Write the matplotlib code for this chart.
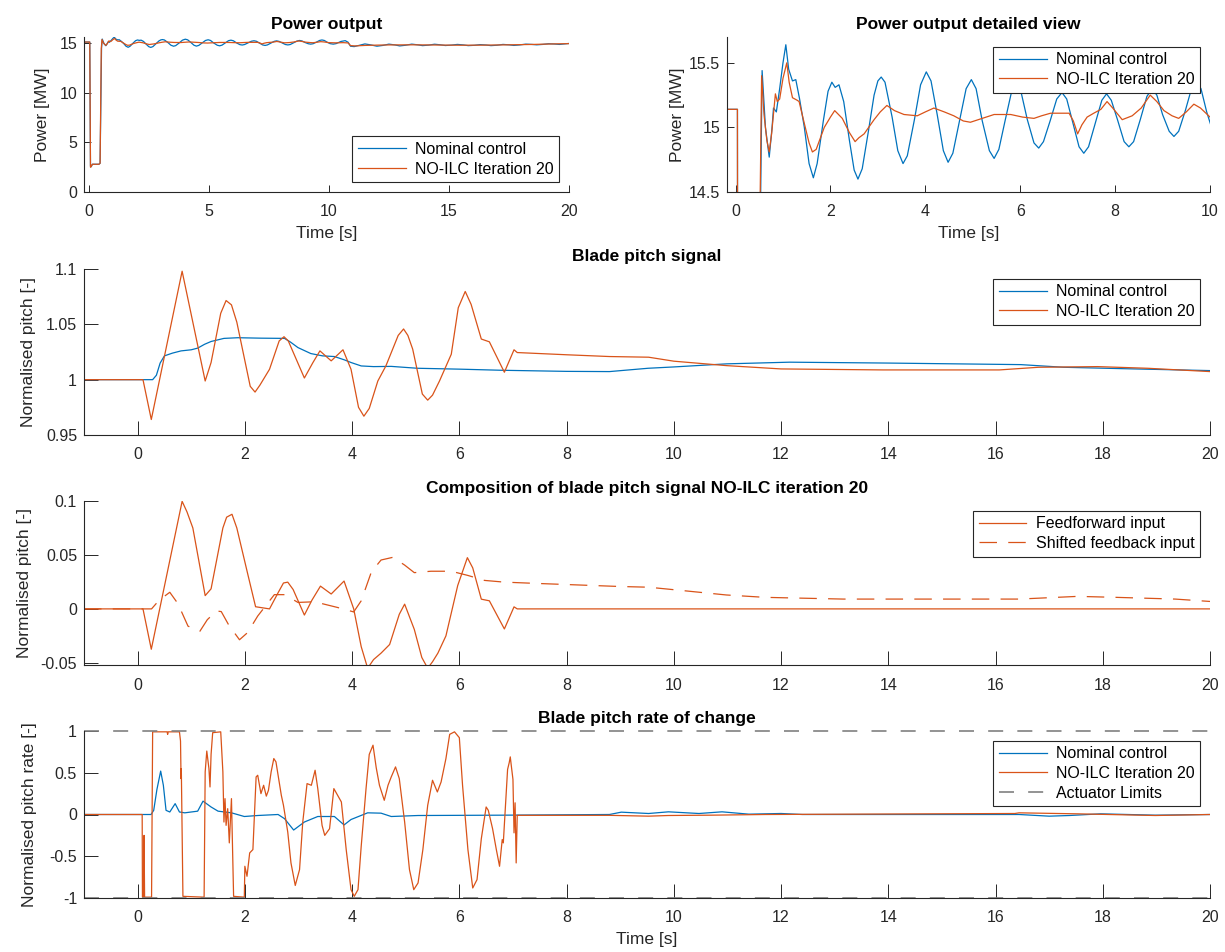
import numpy as np
import matplotlib
matplotlib.use("Agg")
import matplotlib.pyplot as plt
from matplotlib.ticker import FormatStrFormatter

plt.rcParams['font.family'] = ['Liberation Sans', 'DejaVu Sans']

BLUE = '#0072BD'
ORANGE = '#D95319'
GREY = '#808080'
AX_COL = '#262626'

# ---- power output [MW] ----
power_nom_t = [-1, 0.04, 0.07, 0.10, 0.15, 0.42, 0.47, 0.53, 0.56, 0.63, 0.71, 0.77, 0.80, 0.86, 0.93,
               1.00, 1.06, 1.12, 1.20, 1.27, 1.35, 1.45, 1.55, 1.64, 1.72, 1.85, 1.95, 2.03, 2.10, 2.18,
               2.28, 2.40, 2.50, 2.58, 2.67, 2.80, 2.92, 3.00, 3.07, 3.15, 3.30, 3.42, 3.53, 3.62, 3.77,
               3.90, 4.02, 4.12, 4.25, 4.38, 4.48, 4.58, 4.72, 4.86, 4.97, 5.07, 5.20, 5.35, 5.45, 5.55,
               5.68, 5.82, 5.92, 6.02, 6.15, 6.29, 6.39, 6.49, 6.63, 6.77, 6.88, 6.98, 7.10, 7.24, 7.34,
               7.44, 7.58, 7.72, 7.82, 7.92, 8.05, 8.19, 8.29, 8.39, 8.53, 8.67, 8.78, 8.88, 9.00, 9.14,
               9.24, 9.34, 9.48, 9.61, 9.71, 9.81, 9.93, 10.05, 10.18, 10.30, 10.50, 10.68, 10.80, 10.90,
               11.05, 11.25, 11.50, 11.75, 12.00, 12.25, 12.50, 12.75, 12.95, 13.20, 13.45, 13.70, 13.90,
               14.15, 14.40, 14.65, 14.85, 15.10, 15.35, 15.60, 15.80, 16.05, 16.30, 16.55, 16.75, 17.00,
               17.25, 17.50, 17.70, 17.95, 18.20, 18.45, 18.65, 18.90, 19.15, 19.40, 19.60, 19.80, 20.00]
power_nom = [15.14, 15.14, 2.6, 2.55, 2.8, 2.8, 2.9, 14.5, 15.44, 15.0, 14.77, 15.0, 15.15, 15.12, 15.30,
             15.50, 15.64, 15.45, 15.36, 15.37, 15.22, 15.00, 14.72, 14.61, 14.72, 15.05, 15.28, 15.35, 15.31, 15.33,
             15.20, 14.90, 14.67, 14.60, 14.68, 14.97, 15.25, 15.36, 15.39, 15.35, 15.08, 14.82, 14.72, 14.78, 15.06,
             15.33, 15.43, 15.36, 15.10, 14.82, 14.73, 14.80, 15.05, 15.30, 15.37, 15.30, 15.05, 14.82, 14.76, 14.83,
             15.05, 15.28, 15.33, 15.27, 15.06, 14.88, 14.84, 14.89, 15.05, 15.22, 15.27, 15.22, 15.05, 14.85, 14.80,
             14.85, 15.03, 15.21, 15.26, 15.21, 15.06, 14.89, 14.85, 14.89, 15.06, 15.24, 15.30, 15.25, 15.10, 14.97,
             14.93, 14.97, 15.13, 15.30, 15.35, 15.30, 15.12, 14.98, 14.93, 14.98, 15.20, 15.28, 15.12, 14.72,
             14.68, 14.80, 14.95, 14.85, 14.72, 14.80, 14.93, 14.85, 14.75, 14.82, 14.93, 14.86, 14.78,
             14.83, 14.92, 14.86, 14.79, 14.83, 14.90, 14.85, 14.78, 14.81, 14.88, 14.84, 14.78, 14.82,
             14.90, 14.86, 14.80, 14.85, 14.93, 14.90, 14.86, 14.90, 14.97, 14.94, 14.90, 14.95, 15.00]

power_ilc_t = [-1, 0.04, 0.07, 0.10, 0.15, 0.42, 0.47, 0.52, 0.55, 0.60, 0.66, 0.71, 0.76, 0.84, 0.88,
               0.93, 1.00, 1.08, 1.13, 1.20, 1.30, 1.34, 1.45, 1.55, 1.62, 1.70, 1.87, 2.00, 2.09, 2.25,
               2.40, 2.52, 2.60, 2.71, 2.92, 3.05, 3.19, 3.35, 3.55, 3.83, 4.00, 4.18, 4.40, 4.60, 4.80,
               4.95, 5.20, 5.45, 5.80, 6.05, 6.29, 6.45, 6.64, 7.03, 7.12, 7.21, 7.30, 7.41, 7.55, 7.70,
               7.83, 7.95, 8.15, 8.36, 8.55, 8.74, 8.88, 9.03, 9.20, 9.34, 9.50, 9.66, 9.80, 10.00, 10.30,
               10.60, 10.80, 10.90, 11.10, 11.50, 12.00, 12.50, 13.50, 14.50, 15.50, 16.50, 17.50, 18.50,
               19.30, 20.00]
power_ilc = [15.14, 15.14, 2.5, 2.6, 2.8, 2.8, 2.9, 14.5, 15.40, 15.10, 14.90, 14.81, 14.95, 15.26, 15.20,
             15.22, 15.38, 15.50, 15.35, 15.23, 15.21, 15.20, 15.03, 14.88, 14.81, 14.83, 15.00, 15.08, 15.13, 15.07,
             14.96, 14.89, 14.92, 14.95, 15.06, 15.12, 15.17, 15.13, 15.10, 15.09, 15.12, 15.15, 15.12, 15.09, 15.05,
             15.04, 15.07, 15.10, 15.10, 15.08, 15.07, 15.09, 15.11, 15.11, 15.05, 14.95, 15.02, 15.08, 15.11, 15.14,
             15.20, 15.15, 15.06, 15.09, 15.15, 15.25, 15.20, 15.13, 15.09, 15.07, 15.12, 15.18, 15.15, 15.08, 15.06,
             15.08, 15.05, 14.78, 14.75, 14.80, 14.83, 14.85, 14.86, 14.84, 14.82, 14.83, 14.86, 14.90,
             14.95, 14.98]

# ---- normalised blade pitch [-] ----
pitch_nom_t = [-1, 0.28, 0.35, 0.42, 0.50, 0.65, 0.81, 1.00, 1.12, 1.25, 1.37, 1.61, 1.87, 2.30, 2.74,
               2.85, 2.99, 3.23, 3.45, 3.67, 3.85, 3.98, 4.17, 4.40, 4.73, 5.22, 6.00, 6.78, 8.00, 8.80,
               9.52, 10.00, 10.99, 12.16, 14.00, 16.47, 17.27, 18.50, 20.00]
pitch_nom = [1.0, 1.0, 1.004, 1.015, 1.0215, 1.024, 1.026, 1.027, 1.0285, 1.032, 1.0345, 1.0373, 1.0379, 1.0375, 1.0373,
             1.034, 1.029, 1.0236, 1.0215, 1.0209, 1.018, 1.0155, 1.0124, 1.0118, 1.012, 1.0103, 1.0095, 1.0085, 1.0075, 1.0073,
             1.0103, 1.0115, 1.0143, 1.0158, 1.015, 1.0136, 1.0112, 1.0098, 1.0082]

pitch_ilc_t = [-1, 0.10, 0.255, 0.83, 1.26, 1.37, 1.55, 1.65, 1.75, 1.85, 2.10, 2.19, 2.28, 2.46, 2.64,
               2.73, 2.81, 3.11, 3.27, 3.40, 3.61, 3.83, 3.98, 4.12, 4.22, 4.32, 4.48, 4.63, 4.86, 4.96,
               5.04, 5.13, 5.31, 5.41, 5.50, 5.63, 5.85, 5.98, 6.11, 6.22, 6.41, 6.56, 6.84, 7.02, 7.08,
               8.00, 8.80, 9.53, 10.00, 10.98, 12.00, 13.90, 16.07, 16.80, 17.90, 18.84, 20.00]
pitch_ilc = [1.0, 1.0, 0.964, 1.098, 0.9988, 1.0155, 1.060, 1.0715, 1.0676, 1.052, 0.994, 0.9888, 0.995, 1.0094, 1.035,
             1.0388, 1.035, 1.0015, 1.0155, 1.026, 1.017, 1.027, 1.0094, 0.975, 0.967, 0.974, 0.9988, 1.0124, 1.040, 1.0458,
             1.040, 1.0276, 0.987, 0.9815, 0.986, 0.9988, 1.023, 1.065, 1.0797, 1.068, 1.0367, 1.0342, 1.0067, 1.027, 1.0245,
             1.0225, 1.0209, 1.0203, 1.0167, 1.0127, 1.0097, 1.0088, 1.0088, 1.0112, 1.0118, 1.0103, 1.0073]

# ---- composition of NO-ILC pitch signal ----
ff_t = [-1, 0.10, 0.255, 0.83, 0.92, 1.03, 1.26, 1.37, 1.59, 1.66, 1.76, 1.85, 2.06, 2.20, 2.46,
        2.62, 2.72, 2.80, 2.90, 3.11, 3.25, 3.41, 3.61, 3.85, 4.03, 4.17, 4.29, 4.40, 4.54, 4.70,
        4.88, 4.98, 5.16, 5.30, 5.41, 5.50, 5.60, 5.75, 5.97, 6.15, 6.25, 6.41, 6.56, 6.84, 7.02,
        7.08, 20.0]
ff_input = [0, 0, -0.0374, 0.0997, 0.090, 0.075, 0.0123, 0.0186, 0.075, 0.085, 0.0877, 0.075, 0.031, 0.002, 0.0,
            0.015, 0.024, 0.0248, 0.018, -0.0057, 0.008, 0.0211, 0.0138, 0.0258, 0.0, -0.035, -0.055, -0.047, -0.041, -0.033,
            -0.005, 0.0044, -0.019, -0.045, -0.055, -0.049, -0.041, -0.025, 0.0217, 0.0475, 0.038, 0.009, 0.0075, -0.0186, 0.0019,
            0.0, 0.0]

fb_t = [-1, 0.26, 0.40, 0.60, 0.75, 0.94, 1.16, 1.30, 1.47, 1.56, 1.70, 1.90, 2.05, 2.24, 2.55,
        2.74, 2.99, 3.30, 3.73, 4.03, 4.17, 4.36, 4.54, 4.76, 4.98, 5.16, 5.47, 5.85, 6.16, 6.47,
        6.84, 7.50, 8.97, 9.53, 10.04, 10.98, 11.70, 13.16, 16.44, 17.53, 18.25, 19.35, 20.0]
fb_input = [0, 0, 0.008, 0.0154, 0.005, -0.016, -0.0208, -0.010, -0.0019, -0.0025, -0.015, -0.0286, -0.022, -0.0066, 0.0132,
            0.0132, 0.006, 0.0066, 0.0013, -0.0028, 0.0075, 0.0343, 0.0453, 0.0478, 0.0406, 0.0336, 0.0349, 0.0349, 0.031, 0.0264,
            0.0248, 0.0235, 0.0208, 0.0201, 0.0176, 0.0129, 0.0107, 0.0091, 0.0091, 0.0116, 0.0107, 0.0091, 0.0069]

# ---- normalised pitch rate [-] ----
rate_nom_t = [-1, 0.25, 0.30, 0.36, 0.43, 0.48, 0.53, 0.60, 0.70, 0.78, 0.88, 1.12, 1.22, 1.37, 1.50,
              1.75, 1.99, 2.24, 2.62, 2.74, 2.91, 3.11, 3.36, 3.67, 3.85, 3.98, 4.29, 4.54, 4.73, 5.23,
              6.84, 8.80, 9.02, 9.53, 9.90, 10.47, 10.90, 11.40, 12.00, 12.40, 16.44, 17.00, 17.38, 17.96,
              18.98, 20.0]
rate_nom = [0, 0, 0.05, 0.30, 0.52, 0.35, 0.05, 0.03, 0.13, 0.03, 0.02, 0.04, 0.16, 0.09, 0.04,
            0.02, -0.024, -0.012, 0.0, -0.05, -0.186, -0.09, -0.024, -0.024, -0.125, -0.06, 0.02, 0.016, -0.024, -0.012,
            -0.008, 0.0, 0.028, 0.012, 0.032, 0.012, 0.032, 0.004, 0.012, 0.0, 0.0, -0.02, -0.012, 0.008,
            -0.008, 0.0]

rate_ilc_t = [-1, 0.085, 0.09, 0.11, 0.12, 0.13, 0.26, 0.28, 0.55, 0.56, 0.57, 0.78, 0.80, 0.81, 0.815,
              0.845, 1.24, 1.26, 1.29, 1.33, 1.35, 1.37, 1.40, 1.55, 1.59, 1.61, 1.63, 1.65, 1.68, 1.71,
              1.75, 1.79, 1.99, 2.00, 2.04, 2.09, 2.15, 2.21, 2.24, 2.30, 2.35, 2.40, 2.44, 2.49, 2.54,
              2.58, 2.68, 2.72, 2.80, 2.86, 2.94, 3.02, 3.08, 3.16, 3.24, 3.31, 3.36, 3.44, 3.49, 3.58,
              3.66, 3.73, 3.80, 3.89, 3.98, 4.04, 4.11, 4.17, 4.26, 4.32, 4.39, 4.45, 4.51, 4.60, 4.67,
              4.73, 4.81, 4.88, 4.98, 5.07, 5.15, 5.23, 5.32, 5.41, 5.50, 5.59, 5.66, 5.75, 5.82, 5.91,
              6.00, 6.06, 6.16, 6.25, 6.33, 6.41, 6.50, 6.54, 6.62, 6.69, 6.75, 6.80, 6.82, 6.90, 6.93,
              6.95, 6.97, 7.00, 7.02, 7.04, 7.06, 7.08, 8.80, 9.53, 9.90, 10.70, 11.70, 16.36, 16.44,
              17.53, 18.98, 20.0]
rate_ilc = [0, 0, -0.99, -0.99, -0.25, -0.99, -0.99, 0.99, 0.99, 0.96, 0.99, 0.99, 0.88, 0.43, 0.55,
            -0.98, -0.99, 0.51, 0.76, 0.55, 0.33, 0.72, 0.98, 0.99, 0.51, -0.09, 0.19, -0.13, 0.07, -0.34,
            0.19, -0.98, -0.99, -0.62, -0.74, -0.46, -0.42, 0.45, 0.47, 0.25, 0.35, 0.22, 0.29, 0.51, 0.67,
            0.63, 0.23, 0.11, -0.21, -0.58, -0.85, -0.66, -0.09, 0.37, 0.35, 0.53, 0.31, -0.13, -0.25, -0.17,
            0.31, 0.23, 0.15, -0.42, -0.90, -0.98, -0.90, -0.38, 0.31, 0.72, 0.83, 0.56, 0.35, 0.17, 0.35,
            0.45, 0.57, 0.43, -0.09, -0.66, -0.90, -0.82, -0.42, 0.11, 0.41, 0.27, 0.39, 0.67, 0.96, 0.99,
            0.92, 0.35, -0.42, -0.88, -0.78, -0.29, 0.09, 0.05, -0.17, -0.42, -0.62, -0.30, -0.34, 0.54, 0.62,
            0.69, 0.58, 0.42, -0.22, 0.14, -0.58, -0.01, -0.01, -0.02, -0.012, -0.008, 0.0, 0.012, 0.02,
            0.008, -0.012, 0.0]

actuator_limits = [1, -1]


def style_axes(ax, ticklen):
    for side in ['top', 'right']:
        ax.spines[side].set_visible(False)
    for side in ['left', 'bottom']:
        ax.spines[side].set_color(AX_COL)
        ax.spines[side].set_linewidth(0.8)
    ax.tick_params(direction='in', length=ticklen, width=0.7, colors=AX_COL,
                   labelsize=11.5)
    ax.tick_params(axis='x', pad=9)
    ax.tick_params(axis='y', pad=5)
    ax.yaxis.set_major_formatter(FormatStrFormatter('%g'))
    ax.xaxis.set_major_formatter(FormatStrFormatter('%g'))


def add_legend(ax, loc):
    leg = ax.legend(loc=loc, fontsize=11.5, fancybox=False, framealpha=1,
                    edgecolor=AX_COL, handlelength=3.0, handletextpad=0.6,
                    borderpad=0.35, labelspacing=0.3, borderaxespad=0.6)
    leg.get_frame().set_linewidth(0.8)
    return leg


fig = plt.figure(figsize=(12.25, 9.52), dpi=100)
W, H = 1225.0, 952.0


def px_axes(left, top, right, bottom):
    return fig.add_axes([left / W, 1 - bottom / H, (right - left) / W, (bottom - top) / H])


title_kw = dict(fontsize=12.5, fontweight='bold', pad=6, color='black')
label_kw = dict(fontsize=12.5, color=AX_COL)

# Power output
ax1 = px_axes(84, 37, 569, 192)
ax1.plot(power_nom_t, power_nom, color=BLUE, lw=0.9, label='Nominal control')
ax1.plot(power_ilc_t, power_ilc, color=ORANGE, lw=0.9, label='NO-ILC Iteration 20')
ax1.set_xlim(-0.2, 20)
ax1.set_ylim(0, 15.65)
ax1.set_xticks([0, 5, 10, 15, 20])
ax1.set_yticks([0, 5, 10, 15])
style_axes(ax1, 5)
ax1.set_title('Power output', **title_kw)
ax1.set_xlabel('Time [s]', labelpad=5, **label_kw)
ax1.set_ylabel('Power [MW]', labelpad=7, **label_kw)
add_legend(ax1, 'lower right')

# Power output detailed view
ax2 = px_axes(727, 37, 1210, 192)
ax2.plot(power_nom_t, power_nom, color=BLUE, lw=0.9, label='Nominal control')
ax2.plot(power_ilc_t, power_ilc, color=ORANGE, lw=0.9, label='NO-ILC Iteration 20')
ax2.set_xlim(-0.18, 10)
ax2.set_ylim(14.5, 15.7)
ax2.set_xticks([0, 2, 4, 6, 8, 10])
ax2.set_yticks([14.5, 15, 15.5])
style_axes(ax2, 5)
ax2.set_title('Power output detailed view', **title_kw)
ax2.set_xlabel('Time [s]', labelpad=5, **label_kw)
ax2.set_ylabel('Power [MW]', labelpad=3, **label_kw)
add_legend(ax2, 'upper right')

ticks20 = list(range(0, 21, 2))

# Blade pitch signal
ax3 = px_axes(84, 269, 1210, 435)
ax3.plot(pitch_nom_t, pitch_nom, color=BLUE, lw=0.9, label='Nominal control')
ax3.plot(pitch_ilc_t, pitch_ilc, color=ORANGE, lw=0.9, label='NO-ILC Iteration 20')
ax3.set_xlim(-1, 20)
ax3.set_ylim(0.95, 1.1)
ax3.set_xticks(ticks20)
ax3.set_yticks([0.95, 1.0, 1.05, 1.1])
style_axes(ax3, 10)
ax3.set_title('Blade pitch signal', **title_kw)
ax3.set_ylabel('Normalised pitch [-]', labelpad=7, **label_kw)
add_legend(ax3, 'upper right')

# Composition of pitch signal
ax4 = px_axes(84, 501, 1210, 665)
ax4.plot(ff_t, ff_input, color=ORANGE, lw=0.9, label='Feedforward input')
ax4.plot(fb_t, fb_input, color=ORANGE, lw=0.9, dashes=(14, 9), label='Shifted feedback input')
ax4.set_xlim(-1, 20)
ax4.set_ylim(-0.052, 0.1)
ax4.set_xticks(ticks20)
ax4.set_yticks([-0.05, 0, 0.05, 0.1])
style_axes(ax4, 10)
ax4.set_title('Composition of blade pitch signal NO-ILC iteration 20', **title_kw)
ax4.set_ylabel('Normalised pitch [-]', labelpad=6, **label_kw)
add_legend(ax4, 'upper right')

# Pitch rate of change
ax5 = px_axes(84, 731, 1210, 898)
ax5.plot(rate_nom_t, rate_nom, color=BLUE, lw=0.9, label='Nominal control')
ax5.plot(rate_ilc_t, rate_ilc, color=ORANGE, lw=0.9, label='NO-ILC Iteration 20')
for i, lim in enumerate(actuator_limits):
    ax5.axhline(lim, color=GREY, lw=1.2, dashes=(9, 8.5), clip_on=False,
                label='Actuator Limits' if i == 0 else None)
ax5.set_xlim(-1, 20)
ax5.set_ylim(-1.0, 1.0)
ax5.set_xticks(ticks20)
ax5.set_yticks([-1, -0.5, 0, 0.5, 1])
style_axes(ax5, 10)
ax5.set_title('Blade pitch rate of change', **title_kw)
ax5.set_xlabel('Time [s]', labelpad=5, **label_kw)
ax5.set_ylabel('Normalised pitch rate [-]', labelpad=9, **label_kw)
add_legend(ax5, 'upper right')

fig.savefig('out.png', dpi=100)
